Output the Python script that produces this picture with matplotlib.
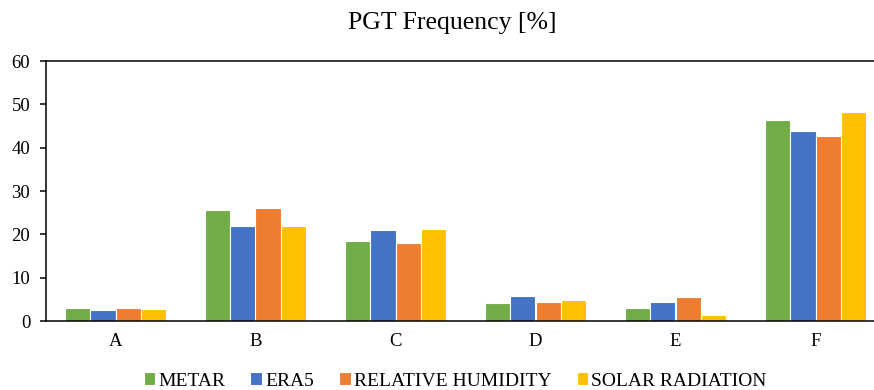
import numpy as np
import matplotlib
matplotlib.use("Agg")
import matplotlib.pyplot as plt

plt.rcParams['font.family'] = ['Liberation Serif', 'DejaVu Serif']

categories = ["A", "B", "C", "D", "E", "F"]
metar = [3.1, 25.7, 18.4, 4.2, 3.0, 46.3]
era5 = [2.6, 22.0, 21.1, 5.7, 4.5, 43.9]
rel_hum = [3.0, 26.1, 17.9, 4.5, 5.5, 42.8]
solar_rad = [2.8, 22.0, 21.2, 4.9, 1.3, 48.2]

series = [("METAR", metar, "#70AD47"),
          ("ERA5", era5, "#4472C4"),
          ("RELATIVE HUMIDITY", rel_hum, "#ED7D31"),
          ("SOLAR RADIATION", solar_rad, "#FFC000")]

fig = plt.figure(figsize=(8.74, 3.9), dpi=100)
ax = fig.add_axes([45.5/874, 69/390, 1 - 45.5/874, 260/390])

x = np.arange(len(categories))
pitch = 0.179
for i, (name, vals, col) in enumerate(series):
    ax.bar(x + (i - 1.5)*pitch, vals, width=pitch, color=col,
           edgecolor="white", linewidth=0.8, label=name, zorder=2)

ax.set_xlim(-0.5, (874 - 115.5)/140)
ax.set_ylim(0, 60)
ax.set_yticks(range(0, 61, 10))
ax.set_xticks(x)
ax.set_xticklabels(categories)

ax.spines["right"].set_visible(False)
for s in ["left", "bottom", "top"]:
    ax.spines[s].set_linewidth(1.1)
    ax.spines[s].set_color("black")
ax.tick_params(axis="y", length=4, width=1.1, pad=7, labelsize=13.5)
ax.tick_params(axis="x", length=0, pad=9, labelsize=13.5)

fig.text(452/874, 1 - 23/390, "PGT Frequency [%]", ha="center", va="center",
         fontsize=18.5)

fig.legend(loc="center", bbox_to_anchor=(455/874, 1 - 381/390), ncol=4,
           frameon=False, fontsize=14, handlelength=0.6, handleheight=0.6,
           handletextpad=0.15, columnspacing=1.3, borderaxespad=0)

fig.savefig("out.png", dpi=100)
